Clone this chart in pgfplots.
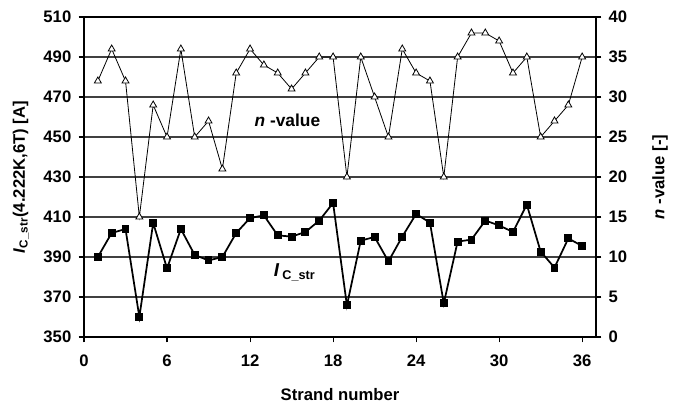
\documentclass[border=0pt]{standalone}
\usepackage{pgfplots}
\pgfplotsset{compat=1.18}
\usepackage{fontspec}
\setmainfont{Liberation Sans}

\pgfplotstableread{
x ic
1 390
2 402
3 404
4 360
5 407
6 384.3
7 404
8 391
9 388.3
10 390
11 402
12 409.5
13 410.8
14 400.8
15 400.2
16 402.5
17 408.2
18 417
19 365.8
20 398.2
21 400
22 387.8
23 400.2
24 411.5
25 407.2
26 366.8
27 397.7
28 398.7
29 408.2
30 405.8
31 402.5
32 416.2
33 392.7
34 384.7
35 399.3
36 395.5
}\icdata

\pgfplotstableread{
x n
1 32
2 36
3 32
4 15
5 29
6 25
7 36
8 25
9 27
10 21
11 33
12 36
13 34
14 33
15 31
16 33
17 35
18 35
19 20
20 35
21 30
22 25
23 36
24 33
25 32
26 20
27 35
28 38
29 38
30 37
31 33
32 35
33 25
34 27
35 29
36 35
}\ndata

\begin{document}
\begin{tikzpicture}[font=\fontsize{12.5}{14}\selectfont\bfseries]
\pgfplotsset{
  base/.style={
    scale only axis,
    width=384pt, height=240pt,
    xmin=0, xmax=37,
    tick style={black, line width=0.8pt},
    tick align=outside,
    major tick length=4pt,
    /pgf/number format/assume math mode=true,
    ticklabel style={font=\fontsize{12.5}{14}\selectfont\bfseries},
  }
}
\begin{axis}[base, name=a,
    ymin=350, ymax=510,
    ytick={350,370,...,510},
    xtick={0,6,...,36},
    axis y line*=left,
    axis x line*=bottom,
    axis line style={line width=0.8pt, -},
    ymajorgrids=true,
    grid style={black!75, line width=0.8pt},
    xtick pos=bottom, ytick pos=left,
    xticklabel style={yshift=-6pt},
    yticklabel style={xshift=-2pt},
    xlabel={Strand number},
    ylabel={\textit{I}\textsubscript{C\_str}(4.222K,6T) [A]},
    xlabel style={yshift=-9pt},
    ylabel style={yshift=4pt},
    clip=false,
]
\addplot[black, line width=1.3pt, mark=square*, mark size=2.3pt] table[x=x, y=ic] {\icdata};
\node at (axis cs:15.2,382.5) {\fontsize{14}{16}\selectfont\textit{I}\,\raisebox{-0.3ex}{\fontsize{9.5}{11}\selectfont C\_str}};
\node at (axis cs:14.7,458.5) {\fontsize{13}{15}\selectfont\textit{n} -value};
\end{axis}
\begin{axis}[base,
    ymin=0, ymax=40,
    ytick={0,5,...,40},
    axis y line*=right,
    axis x line=none,
    axis line style={line width=0.8pt, -},
    yticklabel style={xshift=2pt},
    ylabel={\textit{n} -value [-]},
    ylabel style={yshift=-12pt},
]
\addplot[black, line width=0.6pt, mark=triangle*, mark size=3pt, mark options={fill=white, line width=0.6pt}] table[x=x, y=n] {\ndata};
\end{axis}
\draw[black, line width=0.8pt] (a.north west) -- (a.north east);
\pgfresetboundingbox
\path ([shift={(-63pt,-52.5pt)}]a.south west) rectangle ([shift={(57.75pt,12.75pt)}]a.north east);
\end{tikzpicture}
\end{document}
